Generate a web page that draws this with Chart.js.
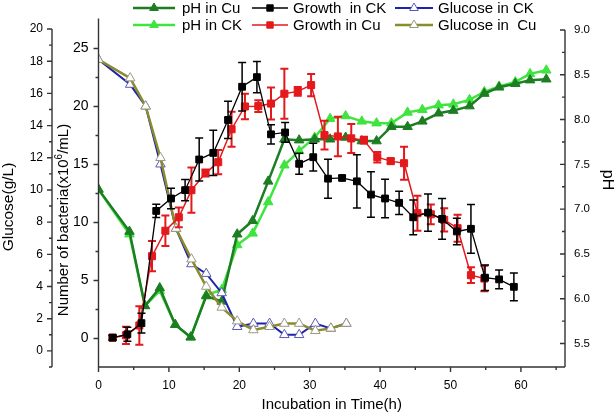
<!DOCTYPE html>
<html>
<head>
<meta charset="utf-8">
<script src="https://cdn.jsdelivr.net/npm/chart.js@4.4.1/dist/chart.umd.min.js"></script>
<style>
  html, body { margin: 0; padding: 0; background: #fff; }
  #wrap { width: 614px; height: 415px; }
</style>
</head>
<body>
<div id="wrap"><canvas id="chart" width="614" height="415"></canvas></div>
<script>
const FONT = "'Liberation Sans', Arial, sans-serif";

// glucose (g/L)
const glucoseTime = [0, 4.5, 6.7, 8.8, 11.0, 13.2, 15.3, 17.5, 19.7, 22.0, 24.3, 26.4, 28.5, 30.8, 33.0, 35.2];
const glucoseCK = [18.1, 16.55, 15.2, 11.6, 7.6, 5.4, 4.8, 3.6, 1.5, 1.7, 1.7, 1.0, 1.0, 1.7, 1.4, 1.7];
const glucoseCu = [18.1, 16.95, 15.2, 12.0, 7.6, 5.7, 4.0, 2.7, 1.85, 1.3, 1.5, 1.7, 1.7, 1.25, 1.4, 1.7];

// bacteria (x10^6/mL) with error bars
const growthTimeCK = [2.0, 4.1, 6.1, 8.2, 10.3, 12.3, 14.3, 16.3, 18.4, 20.4, 22.5, 24.5, 26.5, 28.5, 30.5, 32.6, 34.6, 36.7, 38.7, 40.7, 42.7, 44.7, 46.8, 48.8, 50.9, 52.9, 54.9, 56.9, 59.0];
const growthCK = [0.08, 0.37, 1.33, 11.0, 12.07, 12.79, 15.43, 16.0, 18.84, 21.7, 22.53, 17.6, 17.76, 15.06, 15.63, 13.78, 13.84, 13.55, 12.41, 12.07, 11.7, 10.45, 10.85, 10.31, 9.23, 9.46, 5.25, 5.1, 4.46];
const growthErrCK = [0.2, 0.6, 0.85, 0.57, 0.88, 0.92, 1.85, 1.95, 1.6, 2.1, 1.35, 0.83, 0.85, 0.9, 1.2, 1.68, 0.2, 2.3, 1.96, 1.65, 1.0, 1.5, 1.6, 1.75, 1.14, 2.1, 1.1, 0.8, 1.2];

const growthTimeCu = [2.0, 3.9, 5.8, 7.6, 9.5, 11.4, 13.2, 15.2, 17.0, 18.9, 20.8, 22.7, 24.5, 26.4, 28.3, 30.2, 32.1, 34.0, 35.9, 37.7, 39.6, 41.5, 43.4, 45.3, 47.2, 49.1, 51.0, 52.9, 54.8];
const growthCu = [0.08, 0.28, 1.13, 7.1, 9.29, 10.45, 12.79, 14.26, 15.2, 18.04, 20.0, 20.03, 20.25, 21.1, 21.3, 21.84, 17.53, 17.42, 17.25, 17.1, 15.63, 15.29, 15.11, 10.8, 10.71, 10.23, 9.51, 5.46, 5.17];
const growthErrCu = [0.2, 0.74, 1.66, 1.3, 1.32, 0.85, 1.95, 0.3, 1.04, 1.5, 1.1, 0.5, 1.38, 2.15, 0.38, 0.95, 1.24, 1.7, 1.25, 0.3, 0.45, 0.2, 1.42, 1.5, 0.85, 1.0, 1.17, 0.68, 1.1];

// pH
const phTime = [0, 4.4, 6.6, 8.7, 10.9, 13.1, 15.3, 17.5, 19.7, 21.9, 24.1, 26.4, 28.5, 30.7, 32.9, 35.1, 37.4, 39.5, 41.6, 43.9, 46.0, 48.3, 50.4, 52.7, 54.8, 56.9, 59.2, 61.3, 63.6];
const phCu = [7.22, 6.75, 5.92, 6.12, 5.71, 5.57, 6.03, 5.97, 6.72, 6.87, 7.31, 7.78, 7.77, 7.78, 7.78, 7.80, 7.76, 7.76, 7.92, 7.92, 7.98, 8.07, 8.10, 8.15, 8.29, 8.36, 8.40, 8.44, 8.45];
const phCK = [7.22, 6.72, 5.92, 6.09, 5.71, 5.57, 6.04, 6.10, 6.60, 6.73, 7.08, 7.49, 7.65, 7.80, 8.01, 8.04, 7.98, 7.96, 7.96, 8.08, 8.11, 8.16, 8.17, 8.22, 8.31, 8.37, 8.42, 8.51, 8.55];

// tick labels
const xTicks = [0, 10, 20, 30, 40, 50, 60];
const glucoseTicks = [0, 2, 4, 6, 8, 10, 12, 14, 16, 18, 20];
const bacteriaTicks = [0, 5, 10, 15, 20, 25];
const phTicks = [5.5, 6.0, 6.5, 7.0, 7.5, 8.0, 8.5, 9.0];

function pts(xs, ys) { return xs.map((x, i) => ({ x: x, y: ys[i] })); }

const datasets = [
  { label: 'pH in Cu', data: pts(phTime, phCu), yAxisID: 'yPh', order: 5,
    borderColor: '#1d7d22', backgroundColor: '#1d7d22', borderWidth: 2.5,
    pointStyle: 'triangle', pointRadius: 5.5, pointBorderWidth: 1 },
  { label: 'Growth  in CK', data: pts(growthTimeCK, growthCK), yAxisID: 'yBac', order: 1,
    borderColor: '#000', backgroundColor: '#000', borderWidth: 1.3,
    pointStyle: 'rect', pointRadius: 4.8, pointBorderWidth: 1, errors: growthErrCK, errWidth: 1.5 },
  { label: 'Glucose in CK', data: pts(glucoseTime, glucoseCK), yAxisID: 'yGlu', order: 4,
    borderColor: '#1f23a8', backgroundColor: '#fff', borderWidth: 2,
    pointStyle: 'triangle', pointRadius: 5.5, pointBorderWidth: 1, pointBorderColor: '#5a5ab8' },
  { label: 'pH in CK', data: pts(phTime, phCK), yAxisID: 'yPh', order: 6,
    borderColor: '#3fe43f', backgroundColor: '#3fe43f', borderWidth: 2.5,
    pointStyle: 'triangle', pointRadius: 5.5, pointBorderWidth: 1 },
  { label: 'Growth in Cu', data: pts(growthTimeCu, growthCu), yAxisID: 'yBac', order: 2,
    borderColor: '#e3191c', backgroundColor: '#e3191c', borderWidth: 1.5,
    pointStyle: 'rect', pointRadius: 5, pointBorderWidth: 1, errors: growthErrCu, errWidth: 2 },
  { label: 'Glucose in  Cu', data: pts(glucoseTime, glucoseCu), yAxisID: 'yGlu', order: 3,
    borderColor: '#8a8a2e', backgroundColor: '#fff', borderWidth: 2.5,
    pointStyle: 'triangle', pointRadius: 5.5, pointBorderWidth: 1, pointBorderColor: '#9a9a80' }
];

const legendCols = [{ x0: 133, x1: 175, tx: 182 }, { x0: 252, x1: 288, tx: 293 }, { x0: 395, x1: 433, tx: 438 }];
const legendRows = [8, 25];

// error bars, drawn just under each growth series
const errorBars = {
  id: 'errorBars',
  beforeDatasetDraw(chart, args) {
    const ds = chart.data.datasets[args.index];
    if (!ds.errors) return;
    const ctx = chart.ctx, xs = chart.scales.x, ys = chart.scales[ds.yAxisID];
    ctx.save();
    ctx.strokeStyle = ds.borderColor;
    ctx.lineWidth = ds.errWidth;
    ds.data.forEach((p, i) => {
      const e = ds.errors[i];
      const x = xs.getPixelForValue(p.x);
      const yt = ys.getPixelForValue(p.y + e), yb = ys.getPixelForValue(p.y - e);
      ctx.beginPath();
      ctx.moveTo(x, yt); ctx.lineTo(x, yb);
      ctx.moveTo(x - 4, yt); ctx.lineTo(x + 4, yt);
      ctx.moveTo(x - 4, yb); ctx.lineTo(x + 4, yb);
      ctx.stroke();
    });
    ctx.restore();
  }
};

// Origin style axes, minor ticks, titles and legend
const frame = {
  id: 'frame',
  afterDraw(chart) {
    const { ctx, chartArea: a, scales } = chart;
    const gl = scales.yGlu, bac = scales.yBac, ph = scales.yPh, x = scales.x;
    ctx.save();
    ctx.strokeStyle = '#333';
    ctx.lineWidth = 1.4;
    function vAxis(scale, xp, from, to, majors, minors, dir) {
      ctx.beginPath();
      ctx.moveTo(xp, scale.getPixelForValue(from));
      ctx.lineTo(xp, scale.getPixelForValue(to));
      majors.forEach(v => { const y = scale.getPixelForValue(v); ctx.moveTo(xp, y); ctx.lineTo(xp + dir * 5, y); });
      minors.forEach(v => { const y = scale.getPixelForValue(v); ctx.moveTo(xp, y); ctx.lineTo(xp + dir * 3, y); });
      ctx.stroke();
    }
    vAxis(gl, gl.right, -1, 20, glucoseTicks, [-1, 1, 3, 5, 7, 9, 11, 13, 15, 17, 19], -1);
    vAxis(bac, a.left, bac.min, bac.max, bacteriaTicks, [2.5, 7.5, 12.5, 17.5, 22.5], -1);
    vAxis(ph, a.right, ph.min, 9.0, phTicks, [5.75, 6.25, 6.75, 7.25, 7.75, 8.25, 8.75], -1);
    ctx.beginPath();
    ctx.moveTo(a.left, a.bottom); ctx.lineTo(a.right, a.bottom);
    xTicks.forEach(v => { const p = x.getPixelForValue(v); ctx.moveTo(p, a.bottom); ctx.lineTo(p, a.bottom + 5); });
    [5, 15, 25, 35, 45, 55, 65].forEach(v => { const p = x.getPixelForValue(v); ctx.moveTo(p, a.bottom); ctx.lineTo(p, a.bottom + 3); });
    ctx.stroke();

    // axis titles
    ctx.fillStyle = '#000';
    ctx.textBaseline = 'middle';
    ctx.font = '15px ' + FONT;
    ctx.textAlign = 'center';
    ctx.fillText('Incubation in Time(h)', (a.left + a.right) / 2, 405);

    ctx.save();
    ctx.translate(9, 207);
    ctx.rotate(-Math.PI / 2);
    ctx.font = '15.5px ' + FONT;
    ctx.fillText('Glucose(g/L)', 0, 0);
    ctx.restore();

    ctx.save();
    ctx.translate(64, 220);
    ctx.rotate(-Math.PI / 2);
    ctx.textAlign = 'left';
    const p1 = 'Number of bacteria(x10', p2 = '6', p3 = '/mL)';
    ctx.font = '15px ' + FONT;
    const w1 = ctx.measureText(p1).width, w3 = ctx.measureText(p3).width;
    ctx.font = '10px ' + FONT;
    const w2 = ctx.measureText(p2).width;
    let sx = -(w1 + w2 + w3) / 2;
    ctx.font = '15px ' + FONT;
    ctx.fillText(p1, sx, 0);
    ctx.font = '10px ' + FONT;
    ctx.fillText(p2, sx + w1, -5);
    ctx.font = '15px ' + FONT;
    ctx.fillText(p3, sx + w1 + w2, 0);
    ctx.restore();

    ctx.save();
    ctx.translate(607, 180);
    ctx.rotate(Math.PI / 2);
    ctx.font = '16px ' + FONT;
    ctx.fillText('pH', 0, 0);
    ctx.restore();

    // legend, two rows of three
    ctx.textAlign = 'left';
    ctx.font = '15px ' + FONT;
    const legendOrder = [[0, 1, 2], [3, 4, 5]];
    legendOrder.forEach((row, r) => {
      row.forEach((di, c) => {
        const ds = chart.data.datasets[di], col = legendCols[c], y = legendRows[r];
        ctx.strokeStyle = ds.borderColor;
        ctx.lineWidth = ds.borderWidth;
        ctx.beginPath(); ctx.moveTo(col.x0, y); ctx.lineTo(col.x1, y); ctx.stroke();
        ctx.fillStyle = ds.backgroundColor;
        ctx.strokeStyle = ds.pointBorderColor || ds.borderColor;
        ctx.lineWidth = 1;
        Chart.helpers.drawPoint(ctx, { pointStyle: ds.pointStyle, radius: ds.pointStyle === 'rect' ? 4.5 : 5, rotation: 0, borderWidth: 1 }, (col.x0 + col.x1) / 2, y);
        ctx.fillStyle = '#000';
        ctx.fillText(ds.label, col.tx, y + 1);
      });
    });
    ctx.restore();
  }
};

function fixTicks(list) { return s => { s.ticks = list.map(v => ({ value: v })); }; }

new Chart(document.getElementById('chart'), {
  type: 'line',
  data: { datasets: datasets },
  options: {
    responsive: false,
    animation: false,
    layout: { padding: { top: 15, left: 0, right: 0, bottom: 0 } },
    plugins: { legend: { display: false }, tooltip: { enabled: false } },
    elements: { line: { tension: 0 } },
    scales: {
      x: {
        type: 'linear', min: 0, max: 66.26,
        afterBuildTicks: fixTicks(xTicks),
        afterFit: s => { s.height = 48; },
        grid: { display: false, drawTicks: false }, border: { display: false },
        ticks: { autoSkip: false, maxRotation: 0, padding: 11, color: '#000', font: { size: 12, family: FONT } }
      },
      yGlu: {
        type: 'linear', position: 'left', weight: 2, min: -1.0, max: 20.66,
        afterBuildTicks: fixTicks(glucoseTicks),
        afterFit: s => { s.width = 52; },
        grid: { display: false, drawTicks: false }, border: { display: false },
        ticks: { autoSkip: false, padding: 9, color: '#000', font: { size: 12, family: FONT } }
      },
      yBac: {
        type: 'linear', position: 'left', weight: 1, min: -2.45, max: 27.59,
        afterBuildTicks: fixTicks(bacteriaTicks),
        afterFit: s => { s.width = 46.5; },
        grid: { display: false, drawTicks: false }, border: { display: false },
        ticks: { autoSkip: false, padding: 10, color: '#000', font: { size: 14, family: FONT } }
      },
      yPh: {
        type: 'linear', position: 'right', min: 5.238, max: 9.129,
        afterBuildTicks: fixTicks(phTicks),
        afterFit: s => { s.width = 49; },
        grid: { display: false, drawTicks: false }, border: { display: false },
        ticks: { autoSkip: false, padding: 9, color: '#000', font: { size: 11.5, family: FONT },
          callback: v => v.toFixed(1) }
      }
    }
  },
  plugins: [errorBars, frame]
});
</script>
</body>
</html>
